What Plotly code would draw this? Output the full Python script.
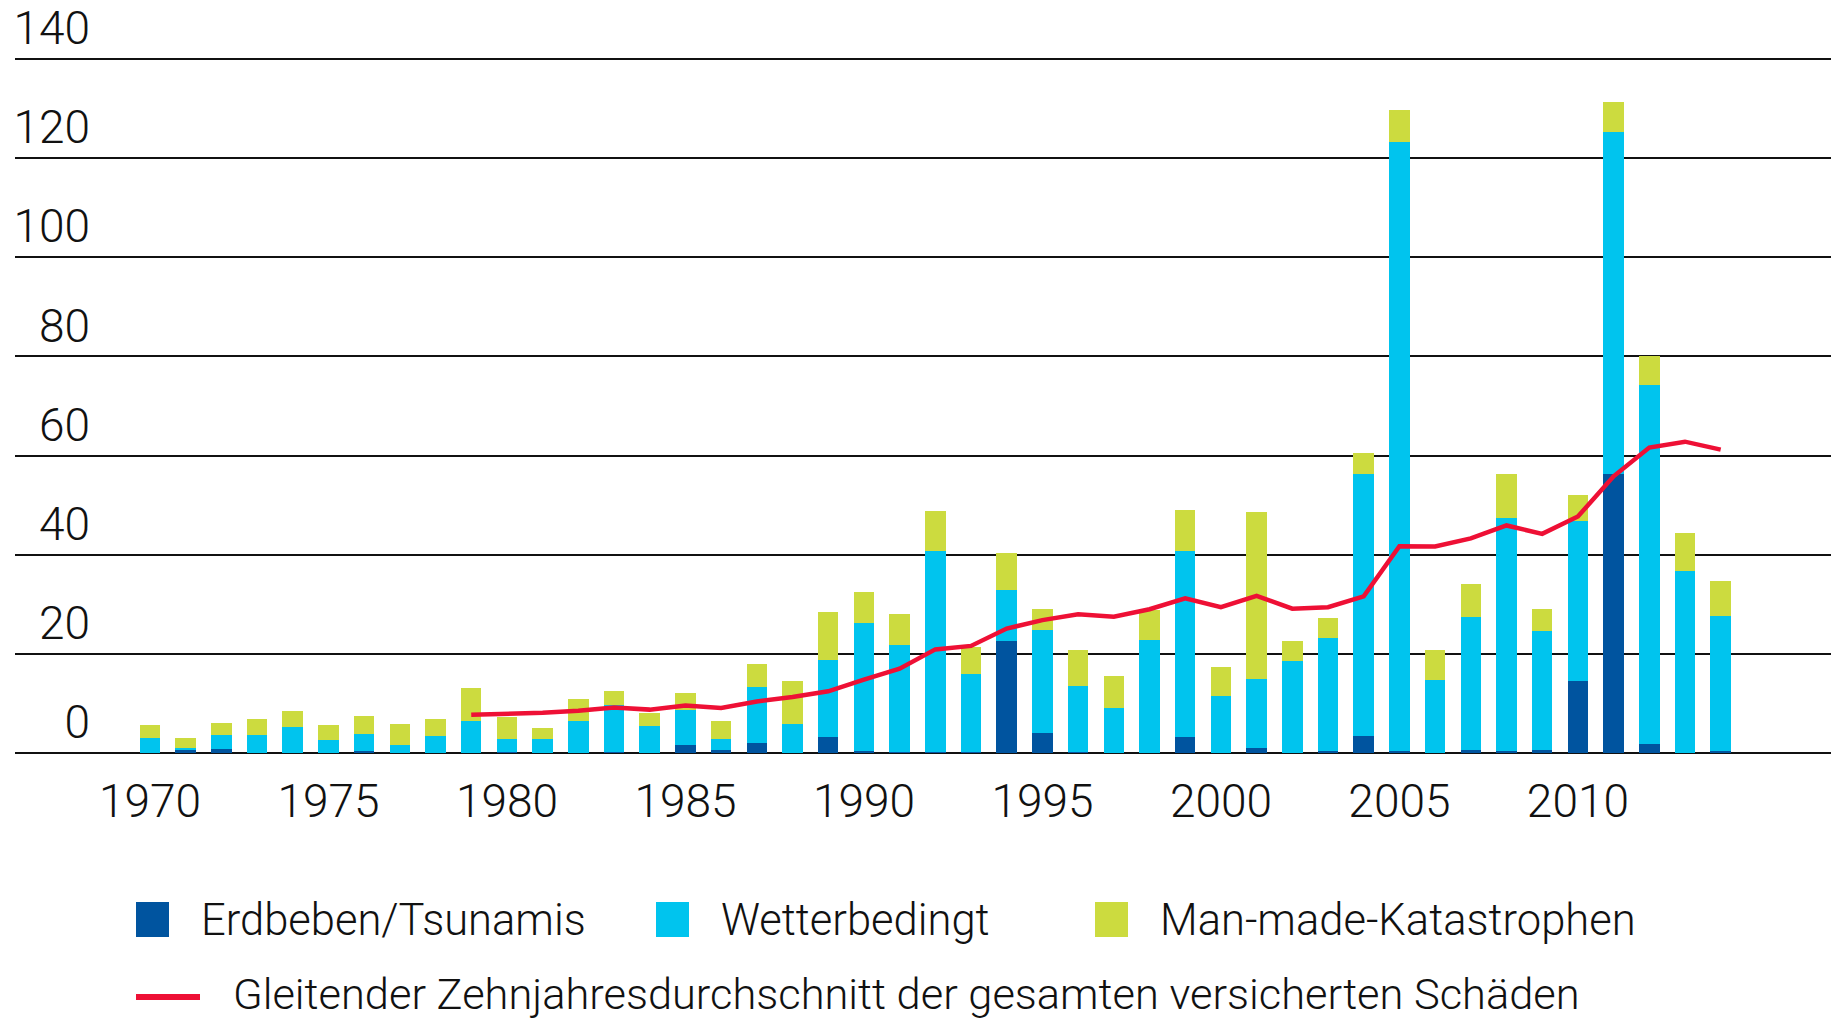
import plotly.graph_objects as go

years = list(range(1970, 2015))
erdbeben = [0.0, 0.65, 0.9, 0.0, 0.0, 0.0, 0.45, 0.0, 0.0, 0.1,
            0.3, 0.1, 0.1, 0.3, 0.0, 1.55, 0.67, 2.1, 0.0, 3.2,
            0.4, 0.2, 0.2, 0.2, 22.5, 4.0, 0.2, 0.1, 0.1, 3.2,
            0.05, 0.95, 0.05, 0.5, 3.5, 0.35, 0.1, 0.6, 0.5, 0.6,
            14.6, 56.3, 1.85, 0.1, 0.4]
wetter = [3.1, 0.43, 2.73, 3.6, 5.2, 2.7, 3.4, 1.55, 3.4, 6.4,
          2.6, 2.8, 6.4, 9.4, 5.4, 7.2, 2.2, 11.2, 5.9, 15.5,
          25.8, 21.5, 40.6, 15.7, 10.3, 20.9, 13.4, 9.0, 22.6, 37.5,
          11.4, 14.0, 18.6, 22.6, 52.8, 122.9, 14.7, 26.8, 46.9, 24.0,
          32.2, 68.9, 72.3, 36.6, 27.3]
manmade = [2.55, 1.95, 2.4, 3.2, 3.2, 3.0, 3.6, 4.3, 3.4, 6.7,
           4.4, 2.2, 4.3, 2.9, 2.6, 3.4, 3.6, 4.6, 8.6, 9.8,
           6.3, 6.4, 8.0, 5.5, 7.5, 4.1, 7.1, 6.5, 6.2, 8.4,
           5.9, 33.7, 3.9, 4.1, 4.2, 6.5, 6.0, 6.6, 8.9, 4.5,
           5.2, 6.1, 5.9, 7.7, 6.9]
avg_years = list(range(1979, 2015))
avg_values = [7.7, 7.8, 8.1, 8.5, 9.2, 8.75, 9.6, 9.1, 10.4, 11.3,
              12.45, 14.8, 17.0, 20.9, 21.6, 25.1, 26.8, 28.0, 27.5, 29.0,
              31.2, 29.4, 31.7, 29.1, 29.4, 31.6, 41.7, 41.65, 43.3, 45.9,
              44.2, 47.7, 55.8, 61.6, 62.8, 61.2]
y_ticks = [0, 20, 40, 60, 80, 100, 120, 140]
x_ticks = [1970, 1975, 1980, 1985, 1990, 1995, 2000, 2005, 2010]

names = ["Erdbeben/Tsunamis", "Wetterbedingt", "Man-made-Katastrophen"]
line_name = "Gleitender Zehnjahresdurchschnitt der gesamten versicherten Schäden"
C_DARK = "#00549F"
C_CYAN = "#00C4EE"
C_LIME = "#CCDB3F"
C_RED = "#EE1035"

FONT = "Roboto"
W, H = 1831, 1021
ML, MR, MT, MB = 15, 0, 54, 268

fig = go.Figure()
for vals, name, col in zip([erdbeben, wetter, manmade], names, [C_DARK, C_CYAN, C_LIME]):
    fig.add_trace(go.Bar(x=years, y=vals, name=name, marker=dict(color=col, line=dict(width=0)),
                         showlegend=False))
fig.add_trace(go.Scatter(x=avg_years, y=avg_values, name=line_name, mode="lines",
                         line=dict(color=C_RED, width=4.5), showlegend=False))

fig.update_layout(
    width=W, height=H,
    margin=dict(l=ML, r=MR, t=MT, b=MB, pad=0),
    barmode="stack", bargap=0.425,
    paper_bgcolor="white", plot_bgcolor="white",
    font=dict(family=FONT, size=46, color="#111111", weight=300),
    showlegend=False,
)
fig.update_xaxes(
    range=[1966.22, 2017.09], tickvals=x_ticks, ticktext=[str(v) for v in x_ticks],
    showgrid=False, zeroline=False, showline=False, ticks="",
    tickfont=dict(family=FONT, size=46, color="#111111", weight=300),
    ticklabelstandoff=17,
)
fig.update_yaxes(
    range=[0, 141], tickvals=y_ticks, ticktext=[str(v) for v in y_ticks],
    showgrid=True, gridcolor="#111111", gridwidth=2,
    zeroline=True, zerolinecolor="#111111", zerolinewidth=2,
    showline=False, ticks="",
    tickfont=dict(family=FONT, size=46, color="#111111", weight=300),
    ticklabelposition="outside", ticklabelstandoff=-76, ticklabelshift=-31,
)

# legend drawn as shapes + text, in pixel positions converted to paper coords
PW, PH = W - ML - MR, H - MT - MB
def px(xp):
    return (xp - ML) / PW
def py(yp):
    return (H - MB - yp) / PH

legend_items = [(136, C_DARK, names[0]), (656, C_CYAN, names[1]), (1095, C_LIME, names[2])]
for x0, col, label in legend_items:
    fig.add_shape(type="rect", xref="paper", yref="paper",
                  x0=px(x0), x1=px(x0 + 33), y0=py(937), y1=py(902),
                  fillcolor=col, line=dict(width=0))
    fig.add_annotation(xref="paper", yref="paper", x=px(x0 + 63), y=py(920),
                       text=label, showarrow=False, xanchor="left", yanchor="middle",
                       font=dict(family=FONT, size=43.5, color="#111111", weight=300))
fig.add_shape(type="line", xref="paper", yref="paper",
              x0=px(136), x1=px(200), y0=py(997), y1=py(997),
              line=dict(color=C_RED, width=6))
fig.add_annotation(xref="paper", yref="paper", x=px(231), y=py(994),
                   text=line_name, showarrow=False, xanchor="left", yanchor="middle",
                   font=dict(family=FONT, size=43.4, color="#111111", weight=300))

fig.write_html("out.html", config={"displayModeBar": False},
               post_script="document.body.style.margin='0';document.body.style.overflow='hidden';")
